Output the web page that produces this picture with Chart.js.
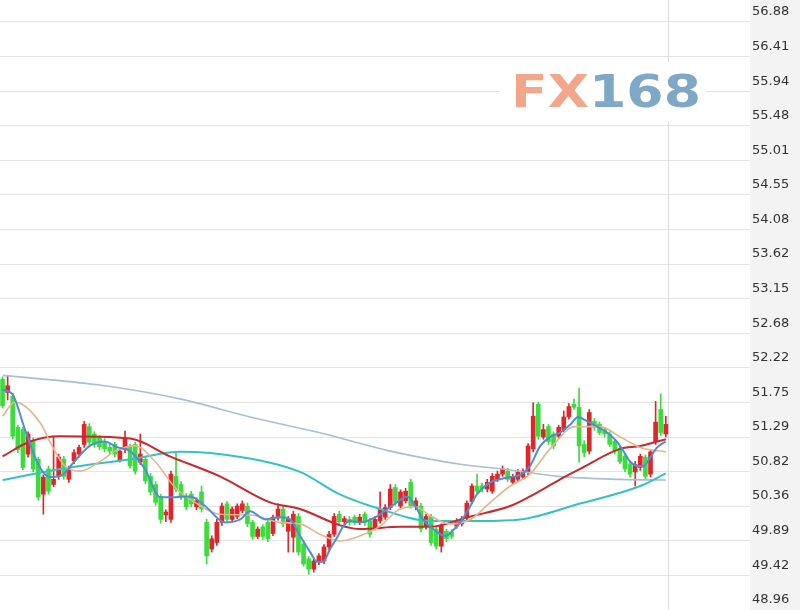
<!DOCTYPE html>
<html>
<head>
<meta charset="utf-8">
<script src="https://cdn.jsdelivr.net/npm/chart.js@4.4.1/dist/chart.umd.min.js"></script>
<style>
  html, body { margin: 0; padding: 0; background: #fff; }
  canvas { display: block; }
</style>
</head>
<body>
<canvas id="kline" width="800" height="610"></canvas>
<script>
// candles, oldest -> newest (prices)
const openP = [
  52.07, 51.89, 51.84, 51.42, 51.39, 51.06, 51.23, 50.99, 50.52, 50.86,
  50.65, 50.76, 50.99, 50.72, 50.97, 51.06, 51.19, 51.43, 51.33, 51.28,
  51.23, 51.15, 51.19, 50.98, 51.12, 51.15, 51.19, 50.95, 50.99, 50.76,
  50.65, 50.49, 50.24, 50.18, 50.76, 50.65, 50.49, 50.52, 50.35, 50.55,
  50.14, 49.78, 49.87, 50.14, 50.39, 50.18, 50.22, 50.30, 50.36, 50.14,
  49.95, 50.08, 50.14, 49.99, 50.20, 50.32, 50.02, 49.94, 50.22, 49.85,
  49.65, 49.51, 49.61, 49.62, 49.81, 49.98, 50.25, 50.15, 50.18, 50.21,
  50.14, 50.25, 50.16, 50.07, 50.16, 50.21, 50.34, 50.61, 50.36, 50.43,
  50.68, 50.35, 50.36, 50.09, 50.22, 50.05, 49.82, 50.02, 50.01, 50.09,
  50.12, 50.20, 50.42, 50.63, 50.63, 50.59, 50.56, 50.72, 50.79, 50.83,
  50.68, 50.72, 50.75, 50.82, 51.13, 51.73, 51.29, 51.43, 51.33, 51.30,
  51.39, 51.56, 51.73, 51.69, 51.19, 51.10, 51.50, 51.46, 51.39, 51.33,
  51.23, 51.13, 51.03, 50.92, 50.82, 50.88, 51.02, 50.79, 51.23, 51.66,
  51.33
];
const highP = [
  52.10, 52.11, 51.88, 51.45, 51.42, 51.36, 51.28, 51.02, 50.78, 50.90,
  51.30, 51.06, 51.03, 50.90, 51.12, 51.18, 51.50, 51.47, 51.36, 51.31,
  51.27, 51.20, 51.22, 51.13, 51.37, 51.19, 51.22, 51.33, 51.03, 50.80,
  50.69, 50.52, 50.31, 50.83, 51.08, 50.69, 50.53, 50.56, 50.47, 50.63,
  50.18, 49.96, 50.18, 50.40, 50.42, 50.35, 50.39, 50.43, 50.40, 50.17,
  50.08, 50.11, 50.18, 50.24, 50.39, 50.36, 50.22, 50.29, 50.26, 49.89,
  49.68, 49.65, 49.72, 49.84, 50.02, 50.26, 50.29, 50.22, 50.22, 50.24,
  50.25, 50.28, 50.19, 50.22, 50.55, 50.38, 50.65, 50.65, 50.58, 50.60,
  50.72, 50.47, 50.40, 50.25, 50.25, 50.08, 50.12, 50.05, 50.04, 50.19,
  50.22, 50.43, 50.66, 50.79, 50.67, 50.72, 50.80, 50.83, 50.90, 50.87,
  50.79, 50.85, 50.86, 51.20, 51.75, 51.76, 51.46, 51.46, 51.36, 51.45,
  51.64, 51.74, 51.80, 51.95, 51.24, 51.66, 51.54, 51.49, 51.42, 51.36,
  51.26, 51.16, 51.06, 50.96, 50.96, 51.06, 51.05, 51.12, 51.77, 51.87,
  51.57
];
const lowP = [
  51.68, 51.79, 51.26, 51.08, 50.85, 51.02, 50.82, 50.44, 50.25, 50.52,
  50.62, 50.72, 50.72, 50.68, 50.93, 51.02, 51.15, 51.18, 51.15, 51.12,
  51.09, 51.05, 51.02, 50.95, 51.08, 50.87, 50.79, 50.92, 50.66, 50.51,
  50.37, 50.13, 50.15, 50.14, 50.55, 50.45, 50.31, 50.35, 50.31, 50.28,
  49.58, 49.74, 49.83, 50.10, 50.14, 50.14, 50.19, 50.27, 50.08, 49.91,
  49.92, 49.91, 49.88, 49.96, 50.17, 50.08, 49.74, 49.74, 49.70, 49.55,
  49.44, 49.47, 49.57, 49.58, 49.77, 49.95, 50.12, 50.11, 50.10, 50.11,
  50.11, 50.10, 49.94, 50.04, 50.13, 50.18, 50.31, 50.37, 50.32, 50.40,
  50.33, 50.31, 50.01, 50.05, 49.83, 49.78, 49.74, 49.88, 49.92, 50.06,
  50.09, 50.17, 50.39, 50.53, 50.55, 50.55, 50.53, 50.69, 50.76, 50.69,
  50.65, 50.69, 50.72, 50.78, 51.09, 51.26, 51.26, 51.19, 51.13, 51.27,
  51.36, 51.53, 51.66, 50.95, 51.02, 51.06, 51.38, 51.32, 51.29, 51.16,
  51.06, 50.93, 50.82, 50.75, 50.63, 50.84, 50.72, 50.75, 51.19, 51.31,
  51.29
];
const closeP = [
  51.71, 51.98, 51.30, 51.12, 50.88, 51.33, 50.86, 50.48, 50.75, 50.56,
  50.72, 51.02, 50.76, 50.86, 51.08, 51.15, 51.46, 51.22, 51.19, 51.16,
  51.13, 51.10, 51.06, 51.10, 51.28, 50.90, 50.83, 51.06, 50.70, 50.55,
  50.41, 50.18, 50.28, 50.79, 50.59, 50.49, 50.35, 50.39, 50.43, 50.32,
  49.69, 49.92, 50.14, 50.36, 50.18, 50.32, 50.36, 50.39, 50.12, 49.95,
  50.05, 49.95, 49.92, 50.21, 50.32, 50.12, 50.18, 50.25, 49.74, 49.58,
  49.51, 49.62, 49.69, 49.81, 49.98, 50.22, 50.15, 50.19, 50.14, 50.14,
  50.21, 50.14, 49.98, 50.18, 50.32, 50.34, 50.59, 50.41, 50.55, 50.56,
  50.36, 50.43, 50.05, 50.22, 49.87, 49.82, 50.09, 49.92, 49.95, 50.16,
  50.18, 50.40, 50.63, 50.56, 50.59, 50.68, 50.76, 50.79, 50.86, 50.72,
  50.76, 50.82, 50.83, 51.17, 51.57, 51.30, 51.39, 51.23, 51.17, 51.42,
  51.56, 51.70, 51.69, 51.17, 51.08, 51.62, 51.42, 51.35, 51.33, 51.19,
  51.10, 50.96, 50.86, 50.79, 50.92, 51.03, 50.76, 51.09, 51.49, 51.35,
  51.46
];

// moving averages, [candle index, price]
const ma5 = [[0,51.93],[1.9,51.87],[4.4,51.39],[7,50.92],[9.3,50.75],[11.7,50.78],[14.2,50.97],[17.1,51.17],
  [19.9,51.23],[22.6,51.15],[25,51.10],[27.9,50.86],[30.9,50.48],[33.8,50.48],[36.8,50.49],[39.7,50.36],
  [43.6,50.14],[46.6,50.18],[48.5,50.29],[51.5,50.18],[54.4,50.21],[56.4,50.18],[58.3,49.96],[60.3,49.74],
  [61.7,49.61],[62.8,49.61],[64.2,49.78],[65.6,49.94],[66.8,50.09],[68.1,50.16],[70.1,50.14],[73.4,50.22],
  [75.4,50.32],[77.3,50.41],[79.3,50.49],[80.9,50.36],[82.4,50.18],[84.4,50.05],[86.8,49.96],[88.1,50.02],
  [89.7,50.14],[91.1,50.29],[93,50.52],[95.6,50.68],[97.5,50.72],[99.5,50.75],[101.5,50.78],[103.4,50.90],
  [105.4,51.17],[107.3,51.29],[109.3,51.35],[111.3,51.46],[112.8,51.56],[114.6,51.50],[116.6,51.43],
  [118.5,51.35],[120.5,51.22],[121.7,51.10],[123,50.96],[124.4,50.90],[125.6,50.90],[127,51.02],
  [128.3,51.15],[130,51.23]];
const ma10 = [[0,51.57],[2.4,51.76],[7.3,51.49],[9.7,51.17],[12.2,50.90],[15.2,50.83],[19.1,50.96],[22.1,51.10],
  [26,51.17],[29.9,50.96],[33.8,50.61],[37.7,50.41],[42.6,50.25],[48.5,50.24],[54.4,50.14],[58.3,50.12],
  [62.2,49.98],[66.2,49.89],[70.1,49.96],[74,50.09],[77.9,50.32],[80.9,50.35],[83.8,50.23],[87.7,50.12],
  [91.7,50.18],[95.6,50.41],[99.5,50.63],[103.4,50.79],[107.3,51.13],[112.2,51.43],[117.1,51.43],
  [121.1,51.29],[125,51.15],[130,51.09]];
const ma20 = [[0,51.03],[5.4,51.23],[11.3,51.30],[25,51.27],[32.8,51.03],[42.6,50.76],[52.4,50.41],[58.3,50.32],
  [66.2,50.10],[70.1,50.05],[77.9,50.08],[83.8,50.08],[91.7,50.22],[99.5,50.36],[103.4,50.49],[109.3,50.72],
  [113.2,50.86],[121,51.13],[125,51.17],[130,51.26]];
const ma60 = [[0,50.71],[11.3,50.86],[25,50.99],[35,51.09],[46.6,51.02],[58.3,50.82],[66,50.52],[74,50.32],
  [83.8,50.16],[93.6,50.16],[101.5,50.18],[113,50.39],[125,50.63],[130,50.80]];
const ma200 = [[0,52.12],[19,51.99],[35,51.80],[48.5,51.56],[62,51.35],[76,51.10],[90,50.92],[98,50.86],
  [109,50.76],[121,50.72],[130,50.71]];

const yTickLabels = ['48.96','49.42','49.89','50.36','50.82','51.29','51.75','52.22','52.68',
  '53.15','53.62','54.08','54.55','55.01','55.48','55.94','56.41','56.88'];

const emptySlots = 16; // room on the right of the last candle
const slotLabels = openP.map((v, i) => 'K' + (i + 1)).concat(Array(emptySlots).fill(''));

const upColor = '#e0262a';
const downColor = '#3ddc3d';
const candleColors = closeP.map((c, i) => c >= openP[i] ? upColor : downColor);

const toPts = arr => arr.map(p => ({ x: p[0], y: p[1] }));

const pageBg = {
  id: 'pageBg',
  beforeDraw(chart) {
    const { ctx, chartArea, width, height } = chart;
    ctx.save();
    ctx.fillStyle = '#ffffff';
    ctx.fillRect(0, 0, width, height);
    ctx.fillStyle = '#f3f3f3';
    ctx.fillRect(chartArea.right, 0, width - chartArea.right, height);
    ctx.restore();
  }
};

const logoAndCursor = {
  id: 'logoAndCursor',
  beforeDatasetsDraw(chart) {
    const { ctx, chartArea } = chart;
    const xl = chart.scales.xl;
    ctx.save();
    // vertical line after the last candle
    const vx = Math.round(xl.getPixelForValue(openP.length - 0.5)) + 0.5;
    ctx.strokeStyle = '#dddddd';
    ctx.lineWidth = 1;
    ctx.beginPath();
    ctx.moveTo(vx, chartArea.top);
    ctx.lineTo(vx, chartArea.bottom);
    ctx.stroke();
    // FX168 watermark
    ctx.fillStyle = '#ffffff';
    ctx.fillRect(500, 62, 206, 60);
    ctx.font = 'bold 45px "DejaVu Sans"';
    ctx.textBaseline = 'alphabetic';
    const wFX = ctx.measureText('FX').width;
    const w168 = ctx.measureText('168').width;
    const sx = 190 / (wFX + w168);
    ctx.translate(511, 107);
    ctx.scale(sx, 1);
    ctx.fillStyle = '#f2a78b';
    ctx.fillText('FX', 0, 0);
    ctx.fillStyle = '#7fa8c6';
    ctx.fillText('168', wFX, 0);
    ctx.restore();
  }
};

const lineDs = (label, pts, color, width) => ({
  type: 'line',
  label,
  data: toPts(pts),
  xAxisID: 'xl',
  borderColor: color,
  borderWidth: width,
  pointRadius: 0,
  cubicInterpolationMode: 'monotone',
  order: 0
});

new Chart(document.getElementById('kline').getContext('2d'), {
  type: 'bar',
  data: {
    labels: slotLabels,
    datasets: [
      lineDs('MA5', ma5, '#4a8fd8', 2),
      lineDs('MA10', ma10, '#e6b58f', 1.6),
      lineDs('MA20', ma20, '#c9282d', 2),
      lineDs('MA60', ma60, '#36c2c4', 2),
      lineDs('MA200', ma200, '#a9bfd2', 1.6),
      {
        label: 'body',
        data: openP.map((o, i) => [o, closeP[i]]),
        backgroundColor: candleColors,
        borderWidth: 0,
        barThickness: 4,
        minBarLength: 1,
        grouped: false,
        order: 1
      },
      {
        label: 'wick',
        data: lowP.map((l, i) => [l, highP[i]]),
        backgroundColor: candleColors,
        borderWidth: 0,
        barThickness: 1,
        grouped: false,
        order: 2
      }
    ]
  },
  options: {
    responsive: false,
    animation: false,
    devicePixelRatio: 1,
    layout: { padding: 0 },
    plugins: { legend: { display: false }, tooltip: { enabled: false } },
    scales: {
      x: { display: false, offset: true, grid: { display: false } },
      xl: {
        type: 'linear',
        display: false,
        offset: false,
        bounds: 'data',
        min: -0.5,
        max: slotLabels.length - 0.5,
        grid: { display: false, offset: false }
      },
      y: {
        position: 'right',
        min: 48.96,
        max: 57.176,
        border: { display: false },
        grid: { color: '#e4e4e4', lineWidth: 1, drawTicks: false },
        afterBuildTicks(scale) {
          scale.ticks = yTickLabels.map(t => ({ value: parseFloat(t) }));
        },
        afterFit(scale) {
          scale.width = 50;
          scale.paddingTop = 0;
          scale.paddingBottom = 0;
        },
        ticks: {
          padding: 2,
          labelOffset: -10,
          color: '#333333',
          font: { family: '"DejaVu Sans"', size: 13 },
          callback: v => yTickLabels.find(t => Math.abs(parseFloat(t) - v) < 0.001) || ''
        }
      }
    }
  },
  plugins: [pageBg, logoAndCursor]
});
</script>
</body>
</html>
